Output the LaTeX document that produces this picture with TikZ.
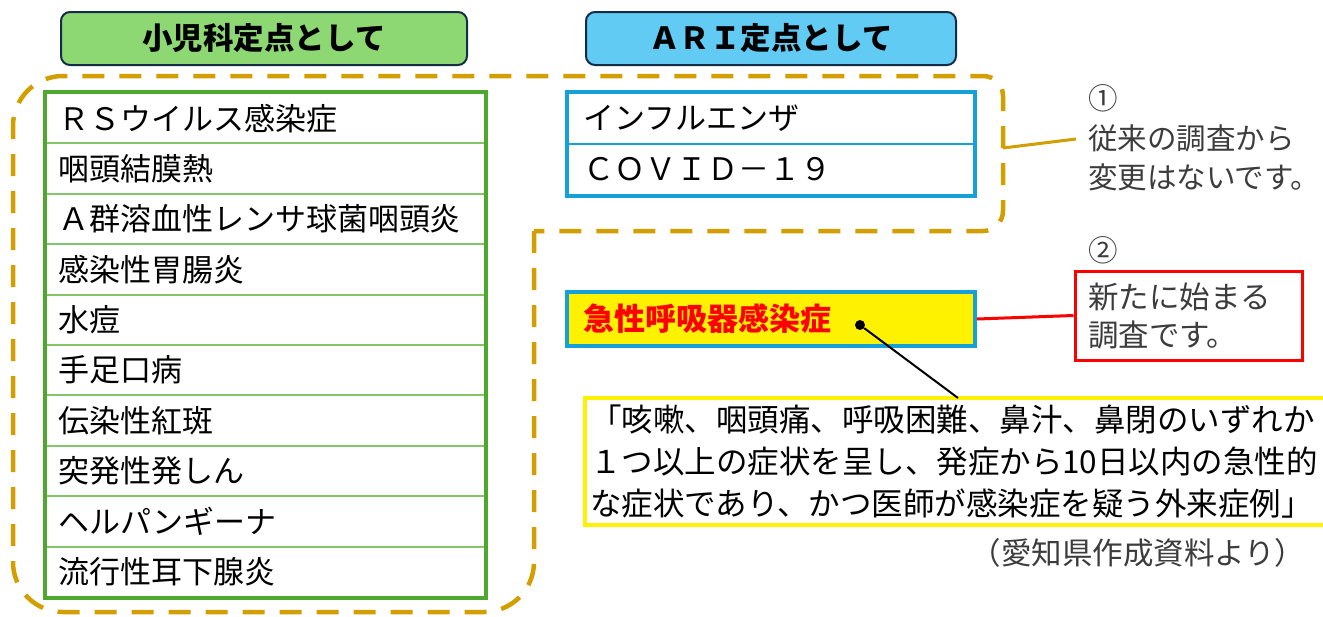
\documentclass[tikz,border=0pt]{standalone}
\usepackage{fontspec}
\setmainfont{Noto Sans CJK JP}
\definecolor{framegold}{RGB}{210,158,0}
\definecolor{pedgreen}{RGB}{78,167,46}
\definecolor{pedline}{RGB}{131,197,104}
\definecolor{hdrgreen}{RGB}{142,216,115}
\definecolor{hdrblue}{RGB}{97,203,243}
\definecolor{hdrdraw}{RGB}{20,45,70}
\definecolor{ariblue}{RGB}{22,160,216}
\definecolor{notegray}{RGB}{60,60,60}
\begin{document}
\begin{tikzpicture}[x=1pt, y=-1pt,
  hdr/.style={draw=hdrdraw, line width=2pt, rounded corners=9pt, minimum height=53pt, inner sep=0pt, font=\fontsize{30.5}{36}\selectfont\bfseries},
  pedrow/.style={draw=pedline, line width=2pt, minimum height=50.4pt, text width=415pt, inner xsep=12pt, inner ysep=0pt, align=left, font=\fontsize{31}{36}\selectfont},
  arirow/.style={draw=ariblue, line width=1.5pt, minimum height=51pt, text width=376pt, inner xsep=15pt, inner ysep=0pt, align=left, font=\fontsize{31}{36}\selectfont},
  note/.style={anchor=west, inner sep=0pt, align=left, text=notegray, font=\fontsize{29.5}{39}\selectfont}]
\useasboundingbox (0,0) rectangle (1323,616);

% headers
\node[hdr, fill=hdrgreen, minimum width=406pt] (pedhdr) at (264,38.5) {小児科定点として};
\node[hdr, fill=hdrblue, minimum width=370pt] (arihdr) at (771,38.5) {ＡＲＩ定点として};

% pediatric list
\node[pedrow] (ped0) at (265.5,118.2) {ＲＳウイルス感染症};
\node[pedrow] (ped1) at (265.5,168.6) {咽頭結膜熱};
\node[pedrow] (ped2) at (265.5,219.0) {Ａ群溶血性レンサ球菌咽頭炎};
\node[pedrow] (ped3) at (265.5,269.4) {感染性胃腸炎};
\node[pedrow] (ped4) at (265.5,319.8) {水痘};
\node[pedrow] (ped5) at (265.5,370.2) {手足口病};
\node[pedrow] (ped6) at (265.5,420.6) {伝染性紅斑};
\node[pedrow] (ped7) at (265.5,471.0) {突発性発しん};
\node[pedrow] (ped8) at (265.5,521.4) {ヘルパンギーナ};
\node[pedrow] (ped9) at (265.5,571.8) {流行性耳下腺炎};
\draw[pedgreen, line width=4pt] (ped0.north west) rectangle (ped9.south east);

% ARI list
\node[arirow] (ari0) at (771,118.5) {インフルエンザ};
\node[arirow] (ari1) at (771,169.5) {ＣＯＶＩＤ－１９};
\draw[ariblue, line width=4pt] (ari0.north west) rectangle (ari1.south east);

\node[draw=ariblue, fill=yellow, line width=4pt, minimum height=54pt, text width=376pt, inner xsep=16pt, inner ysep=0pt, align=left, text=red, font=\fontsize{31}{36}\selectfont\bfseries] (acute) at (771,319) {急性呼吸器感染症};

% dashed frame
\draw[framegold, line width=4.5pt, dash pattern=on 22pt off 15pt]
  (534,231) -- (534,562) arc[start angle=0, end angle=90, radius=50]
  -- (63,612) arc[start angle=90, end angle=180, radius=50]
  -- (13,126) arc[start angle=180, end angle=270, radius=50]
  -- (983,76) arc[start angle=270, end angle=360, radius=20]
  -- (1003,211) arc[start angle=0, end angle=90, radius=20]
  -- cycle;

% notes
\node[note] (mark1) at (1088,98) {①};
\node[note] (note1) at (1088,158) {従来の調査から\\変更はないです。};
\node[note] (mark2) at (1088,250) {②};
\node[draw=red, line width=3pt, minimum width=227pt, minimum height=89pt, text width=201pt, inner xsep=13pt, inner ysep=0pt, align=left, text=notegray, font=\fontsize{30.5}{38}\selectfont] (note2) at (1188.5,315.5) {新たに始まる\\調査です。};
\coordinate (frameR) at (1003,148);
\coordinate (note1L) at (1076,139);
\draw[framegold, line width=3pt] (frameR) -- (note1L);
\draw[red, line width=3pt] (acute.east) -- (note2.west);

% definition box
\node[draw=yellow, line width=3.5pt, minimum width=750pt, minimum height=127pt, text width=740pt, inner xsep=5pt, inner ysep=0pt, align=left, font=\fontsize{31.5}{42}\selectfont] (quote) at (960,461.5) {「咳嗽、咽頭痛、呼吸困難、鼻汁、鼻閉のいずれか\\１つ以上の症状を呈し、発症から10日以内の急性的\\な症状であり、かつ医師が感染症を疑う外来症例」};
\coordinate (quoteT) at (958,398);
\node[circle, fill, inner sep=0pt, minimum size=10pt] (dot) at (860,325) {};
\draw[line width=2pt] (dot) -- (quoteT);

\node[inner sep=0pt, text=notegray, font=\fontsize{30.5}{36}\selectfont] (src) at (1138,553) {（愛知県作成資料より）};
\end{tikzpicture}
\end{document}
